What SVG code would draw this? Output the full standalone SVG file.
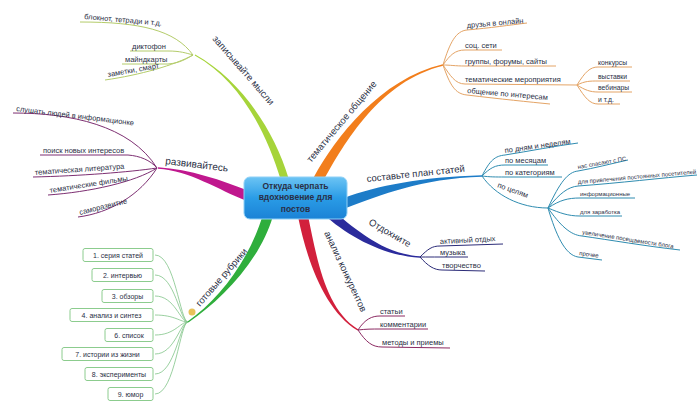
<svg xmlns="http://www.w3.org/2000/svg" width="700" height="403" viewBox="0 0 700 403">
<defs>
<linearGradient id="cg" x1="0" y1="0" x2="0" y2="1">
<stop offset="0" stop-color="#6cc4f4"/><stop offset="0.5" stop-color="#2a9ce6"/><stop offset="1" stop-color="#1b82d6"/>
</linearGradient>
<style>
text{font-family:"Liberation Sans",Arial,sans-serif;fill:#2a2f45}
.lf{font-size:7.5px}
.sm{font-size:6px}
.sm7{font-size:6.8px}
.bl{font-size:9.5px}
.bx{font-size:7px;text-anchor:middle}
.ln{fill:none;stroke-width:1}
.l1{stroke:#b4cc6a}.l2{stroke:#7d2f72}.l3{stroke:#80c488;stroke-width:0.8}
.l4{stroke:#e4a466}.l5{stroke:#2f8cb0}.l6{stroke:#2c2c78}.l7{stroke:#8c2a62}
.box{fill:#fff;stroke:#8ccc8e;stroke-width:1}
</style>
</defs>
<rect width="700" height="403" fill="#fff"/>
<g id="connectors">
<path fill="#a6d43a" d="M288.8 178.9 C273.8 128.9 240.2 79.6 195.2 54.6 L194.8 55.4 C239.8 80.4 266.2 131.2 281.2 181.2 Z"/>
<path fill="#c0188e" d="M249.8 191.3 C221.8 180.3 190 169.3 158 167.3 L158 168.7 C190 170.7 218.2 189.7 246.2 200.7 Z"/>
<path fill="#2fae3c" d="M263.2 213.6 C250.2 258.6 219.6 299.4 187.6 321.4 L188.4 322.6 C220.4 300.6 259.8 261.4 272.8 216.4 Z"/>
<path fill="#f27e1c" d="M322.4 182.4 C344.4 142.4 380.2 80.7 443.2 65.7 L442.8 64.3 C379.8 79.3 335.6 137.6 313.6 177.6 Z"/>
<path fill="#1d7cc8" d="M346.7 207.7 C381.7 194.7 420 178.7 482 176.7 L482 175.3 C420 177.3 378.3 185.3 343.3 198.3 Z"/>
<path fill="#2b2b9c" d="M327.1 217.4 C352.1 238.4 385 255.7 420 257.7 L420 256.3 C385 254.3 357.9 231.6 332.9 210.6 Z"/>
<path fill="#d2203c" d="M298.1 217 C307.1 261 324.6 310.6 357.6 330.6 L358.4 329.4 C325.4 309.4 316.9 259 307.9 215 Z"/>
<path class="ln l1" d="M80 22 C140 22 175 30 193 55"/>
<path class="ln l1" d="M130 51 L168 51 C180 51 186 53 193 55"/>
<path class="ln l1" d="M122 64 L168 64 C180 63 186 59 193 55"/>
<path class="ln l1" d="M105 80 C140 75 175 65 193 55"/>
<path class="ln l2" d="M13 113 C70 113 130 125 157 168"/>
<path class="ln l2" d="M40 155 L128 155 C140 156 150 160 157 168"/>
<path class="ln l2" d="M33 177 C80 176 130 172 157 168"/>
<path class="ln l2" d="M48 195 C90 192 135 182 157 168"/>
<path class="ln l2" d="M78 217 C110 213 140 195 157 168"/>
<path class="ln l3" d="M155 255 C175 255 180 322 188 322"/>
<path class="ln l3" d="M155 275 C175 275 180 322 188 322"/>
<path class="ln l3" d="M155 296 C175 296 180 322 188 322"/>
<path class="ln l3" d="M155 315 C175 315 180 322 188 322"/>
<path class="ln l3" d="M155 335 C175 335 180 322 188 322"/>
<path class="ln l3" d="M155 354 C175 354 180 322 188 322"/>
<path class="ln l3" d="M155 374 C175 374 180 322 188 322"/>
<path class="ln l3" d="M155 394 C175 394 180 322 188 322"/>
<path class="ln l4" d="M443 65 C450 42 456 31 467 30 C490 28 510 25 527 23"/>
<path class="ln l4" d="M443 65 C450 55 455 50 465 50 L502 50"/>
<path class="ln l4" d="M443 65 C450 65 455 66 465 66 L556 66"/>
<path class="ln l4" d="M443 65 C450 75 455 84 465 84 L577 85"/>
<path class="ln l4" d="M443 65 C450 85 455 94 467 95 C500 99 530 102 550 104"/>
<path class="ln l4" d="M577 85 C585 72 590 67 598 67 L632 67"/>
<path class="ln l4" d="M577 85 C585 81 590 81 598 81 L630 81"/>
<path class="ln l4" d="M577 85 C585 90 590 92 598 92 L632 92"/>
<path class="ln l4" d="M577 85 C585 98 590 104 598 104 L620 104"/>
<path class="ln l5" d="M482 176 C490 160 495 156 505 155 C530 151 555 146 578 143"/>
<path class="ln l5" d="M482 176 C490 168 495 165 505 165 L548 165"/>
<path class="ln l5" d="M482 176 C490 177 495 177 505 177 L562 177"/>
<path class="ln l5" d="M482 176 C495 195 520 208 548 208"/>
<path class="ln l5" d="M548 208 C560 182 568 172 578 171 C595 168 610 164 628 160"/>
<path class="ln l5" d="M548 208 C560 193 568 187 578 186 C620 183 660 178 697 175"/>
<path class="ln l5" d="M548 208 C560 200 568 198 580 198 L635 198"/>
<path class="ln l5" d="M548 208 C560 213 568 216 580 216 L622 216"/>
<path class="ln l5" d="M548 208 C560 225 570 235 582 236 C610 240 645 246 680 250"/>
<path class="ln l5" d="M548 208 C556 235 565 255 578 257 L602 260"/>
<path class="ln l6" d="M420 257 C428 249 432 246 440 246 L503 244"/>
<path class="ln l6" d="M420 257 C428 257 432 257 440 257 L468 257"/>
<path class="ln l6" d="M420 257 C428 266 434 270 442 270 L485 271"/>
<path class="ln l7" d="M358 330 C365 319 372 316 380 316 L405 316"/>
<path class="ln l7" d="M358 330 C366 329 372 329 380 329 L428 329"/>
<path class="ln l7" d="M358 330 C366 342 372 347 382 347 L450 348"/>
<circle cx="192" cy="312" r="3.5" fill="#e8c25a"/>
</g>
<g id="center">
<rect x="244" y="177" width="103" height="42" rx="6" fill="url(#cg)" stroke="#8fd0f6" stroke-width="1"/>
<text x="295.5" y="189" text-anchor="middle" font-size="8.5" font-weight="bold">Откуда черпать</text>
<text x="295.5" y="200" text-anchor="middle" font-size="8.5" font-weight="bold">вдохновение для</text>
<text x="295.5" y="212" text-anchor="middle" font-size="8.5" font-weight="bold">постов</text>
</g>
<g id="b-notes">
<text class="bl" x="212" y="39" transform="rotate(49 212 39)">записывайте мысли</text>
<text class="lf" x="84" y="19" transform="rotate(5 84 19)">блокнот, тетради и т.д.</text>
<text class="lf" x="132" y="49">диктофон</text>
<text class="lf" x="125" y="62">майндкарты</text>
<text class="lf" x="108" y="77" transform="rotate(-10 108 77)">заметки, смарт</text>
</g>
<g id="b-develop">
<text x="165" y="164" font-size="10" transform="rotate(7 165 164)">развивайтесь</text>
<text class="lf" x="16" y="111" transform="rotate(7 16 111)">слушать людей в информационке</text>
<text class="lf" x="43" y="153">поиск новых интересов</text>
<text class="lf" x="35" y="175" transform="rotate(-4 35 175)">тематическая литература</text>
<text class="lf" x="50" y="193" transform="rotate(-9 50 193)">тематические фильмы</text>
<text class="lf" x="80" y="215" transform="rotate(-14 80 215)">саморазвитие</text>
</g>
<g id="b-rubrics">
<text class="bl" x="200" y="307" transform="rotate(-49 200 307)">готовые рубрики</text>
<rect class="box" x="83" y="248.5" width="70" height="13" rx="2"/><text class="bx" x="118" y="257.5">1. серия статей</text>
<rect class="box" x="92" y="268.5" width="61" height="13" rx="2"/><text class="bx" x="122.5" y="277.5">2. интервью</text>
<rect class="box" x="102" y="289.5" width="51" height="13" rx="2"/><text class="bx" x="127.5" y="298.5">3. обзоры</text>
<rect class="box" x="70" y="308.5" width="83" height="13" rx="2"/><text class="bx" x="111.5" y="317.5">4. анализ и синтез</text>
<rect class="box" x="105" y="328.5" width="48" height="13" rx="2"/><text class="bx" x="129" y="337.5">6. список</text>
<rect class="box" x="62" y="347.5" width="91" height="13" rx="2"/><text class="bx" x="107.5" y="356.5">7. истории из жизни</text>
<rect class="box" x="85" y="367.5" width="68" height="13" rx="2"/><text class="bx" x="119" y="376.5">8. эксперименты</text>
<rect class="box" x="108" y="387.5" width="45" height="13" rx="2"/><text class="bx" x="130.5" y="396.5">9. юмор</text>
</g>
<g id="b-communication">
<text class="bl" x="311" y="163" transform="rotate(-50 311 163)">тематическое общение</text>
<text class="lf" x="467" y="28" transform="rotate(-5 467 28)">друзья в онлайн</text>
<text class="lf" x="465" y="48">соц. сети</text>
<text class="lf" x="465" y="64">группы, форумы, сайты</text>
<text class="lf" x="465" y="82">тематические мероприятия</text>
<text class="lf" x="467" y="93" transform="rotate(5 467 93)">общение по интересам</text>
<text class="sm7" x="598" y="65">конкурсы</text>
<text class="sm7" x="598" y="79">выставки</text>
<text class="sm7" x="598" y="90">вебинары</text>
<text class="sm7" x="598" y="102">и т.д.</text>
</g>
<g id="b-plan">
<text class="bl" x="367" y="182" transform="rotate(-6 367 182)">составьте план статей</text>
<text class="lf" x="505" y="153" transform="rotate(-8 505 153)">по дням и неделям</text>
<text class="lf" x="505" y="163">по месяцам</text>
<text class="lf" x="505" y="175">по категориям</text>
<text class="lf" x="497" y="187" transform="rotate(20 497 187)">по целям</text>
<text class="sm" x="578" y="169" transform="rotate(-10 578 169)">нас спасают с ПС</text>
<text class="sm" x="578" y="184" transform="rotate(-5 578 184)">для привлечения постоянных посетителей</text>
<text class="sm" x="580" y="196">информационные</text>
<text class="sm" x="580" y="214">для заработка</text>
<text class="sm" x="582" y="234" transform="rotate(9 582 234)">увеличение посещаемости блога</text>
<text class="sm" x="579" y="255" transform="rotate(8 579 255)">прочее</text>
</g>
<g id="b-rest">
<text class="bl" x="368" y="224" transform="rotate(30 368 224)">Отдохните</text>
<text class="lf" x="440" y="244" transform="rotate(-3 440 244)">активный отдых</text>
<text class="lf" x="440" y="255">музыка</text>
<text class="lf" x="442" y="268">творчество</text>
</g>
<g id="b-competitors">
<text class="bl" x="324" y="233" transform="rotate(65 324 233)">анализ конкурентов</text>
<text class="lf" x="380" y="314">статьи</text>
<text class="lf" x="380" y="327">комментарии</text>
<text class="lf" x="382" y="345">методы и приемы</text>
</g>
</svg>
